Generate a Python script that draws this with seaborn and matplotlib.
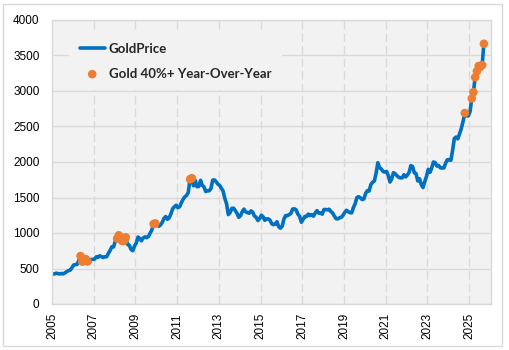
import pandas as pd
import matplotlib.pyplot as plt
from matplotlib.patches import Rectangle
import seaborn as sns

# Monthly gold price (USD/oz), Jan 2005 - Sep 2025
gold_2005 = [424, 423, 434, 429, 422, 430, 424, 438, 456, 470, 476, 510]
gold_2006 = [549, 555, 557, 610, 676, 596, 633, 632, 598, 585, 627, 629]
gold_2007 = [631, 665, 655, 679, 667, 655, 665, 665, 713, 754, 806, 803]
gold_2008 = [889, 922, 968, 909, 888, 889, 939, 839, 829, 770, 750, 816]
gold_2009 = [858, 943, 924, 890, 928, 946, 934, 949, 996, 1043, 1127, 1135]
gold_2010 = [1118, 1095, 1113, 1148, 1205, 1232, 1193, 1215, 1271, 1343, 1370, 1391]
gold_2011 = [1356, 1372, 1424, 1474, 1510, 1529, 1572, 1756, 1772, 1665, 1739, 1652]
gold_2012 = [1656, 1742, 1673, 1650, 1585, 1596, 1594, 1626, 1745, 1747, 1721, 1688]
gold_2013 = [1670, 1627, 1593, 1487, 1414, 1260, 1286, 1347, 1349, 1316, 1275, 1221]
gold_2014 = [1244, 1301, 1336, 1299, 1287, 1279, 1311, 1296, 1239, 1222, 1176, 1201]
gold_2015 = [1251, 1227, 1179, 1198, 1199, 1181, 1130, 1117, 1125, 1159, 1086, 1068]
gold_2016 = [1097, 1200, 1246, 1243, 1260, 1276, 1337, 1341, 1326, 1266, 1236, 1152]
gold_2017 = [1192, 1234, 1231, 1266, 1246, 1260, 1237, 1283, 1315, 1280, 1282, 1265]
gold_2018 = [1331, 1331, 1325, 1335, 1303, 1282, 1238, 1202, 1199, 1215, 1221, 1250]
gold_2019 = [1292, 1320, 1300, 1286, 1284, 1359, 1413, 1500, 1511, 1495, 1471, 1480]
gold_2020 = [1560, 1597, 1591, 1683, 1715, 1732, 1840, 1990, 1921, 1900, 1866, 1858]
gold_2021 = [1867, 1808, 1718, 1760, 1850, 1834, 1807, 1785, 1776, 1777, 1821, 1790]
gold_2022 = [1817, 1856, 1948, 1937, 1849, 1837, 1733, 1764, 1681, 1640, 1726, 1798]
gold_2023 = [1898, 1855, 1913, 2000, 1992, 1943, 1951, 1918, 1916, 1916, 1985, 2031]
gold_2024 = [2034, 2024, 2159, 2331, 2351, 2326, 2399, 2470, 2571, 2690, 2651, 2648]
gold_2025 = [2709, 2895, 2983, 3193, 3279, 3352, 3340, 3365, 3665]

# months where gold was up 40%+ year over year
hot_months = ['2006-05', '2006-06', '2006-07', '2006-08', '2006-09',
              '2008-02', '2008-03', '2008-04', '2008-05', '2008-06', '2008-07',
              '2009-11', '2009-12',
              '2011-08', '2011-09',
              '2024-10',
              '2025-02', '2025-03', '2025-04', '2025-05', '2025-06',
              '2025-07', '2025-08', '2025-09']

year_ticks = [2005, 2007, 2009, 2011, 2013, 2015, 2017, 2019, 2021, 2023, 2025]
price_ticks = [0, 500, 1000, 1500, 2000, 2500, 3000, 3500, 4000]

prices = (gold_2005 + gold_2006 + gold_2007 + gold_2008 + gold_2009 + gold_2010
          + gold_2011 + gold_2012 + gold_2013 + gold_2014 + gold_2015 + gold_2016
          + gold_2017 + gold_2018 + gold_2019 + gold_2020 + gold_2021 + gold_2022
          + gold_2023 + gold_2024 + gold_2025)
dates = pd.date_range('2005-01-01', periods=len(prices), freq='MS') + pd.Timedelta(days=14)
df = pd.DataFrame({'date': dates, 'price': prices})
df['month'] = df['date'].dt.strftime('%Y-%m')
hot = df[df['month'].isin(hot_months)]

sns.set_style('whitegrid')
plt.rcParams['font.family'] = ['Liberation Sans', 'DejaVu Sans']

fig, ax = plt.subplots(figsize=(5.09, 3.5), dpi=100)
fig.subplots_adjust(left=52 / 509, right=490.7 / 509, top=1 - 20 / 350, bottom=1 - 304 / 350)
ax.set_facecolor('#f2f2f2')

sns.lineplot(data=df, x='date', y='price', ax=ax, color='#0070c0', linewidth=2.6,
             label='GoldPrice')
sns.scatterplot(data=hot, x='date', y='price', ax=ax, color='#ed7d31', s=38,
                edgecolor='none', label='Gold 40%+ Year-Over-Year', zorder=3)

ax.set_xlim(pd.Timestamp('2005-01-01'), pd.Timestamp('2026-01-12'))
ax.set_ylim(0, 4000)
ax.set_xticks([pd.Timestamp(f'{y}-01-01') for y in year_ticks])
ax.set_xticklabels([str(y) for y in year_ticks], rotation=90)
ax.set_yticks(price_ticks)
ax.set_yticklabels([str(p) for p in price_ticks])
ax.set_xlabel('')
ax.set_ylabel('')
ax.tick_params(length=0, labelsize=8.5, colors='#000000')
ax.tick_params(axis='y', pad=9)
ax.tick_params(axis='x', pad=6.5)

ax.yaxis.grid(True, color='#d9d9d9', linewidth=1, linestyle='-')
ax.xaxis.grid(True, color='#d9d9d9', linewidth=1, linestyle=(0, (6, 3)))
for sp in ax.spines.values():
    sp.set_color('#d9d9d9')
    sp.set_linewidth(1)

leg = ax.legend(loc='upper left', bbox_to_anchor=(0.024, 0.979), frameon=True,
                facecolor='#f2f2f2', edgecolor='none', framealpha=1, borderpad=0.8,
                handlelength=1.9, handletextpad=0.3, labelspacing=0.95,
                prop={'family': 'Lato', 'weight': 'bold', 'size': 9.5})

fig.patches.append(Rectangle((3 / 509, 4 / 350), 499 / 509, 342 / 350,
                             transform=fig.transFigure, fill=False,
                             edgecolor='#d9d9d9', linewidth=1))

fig.savefig('out.png', dpi=100)
